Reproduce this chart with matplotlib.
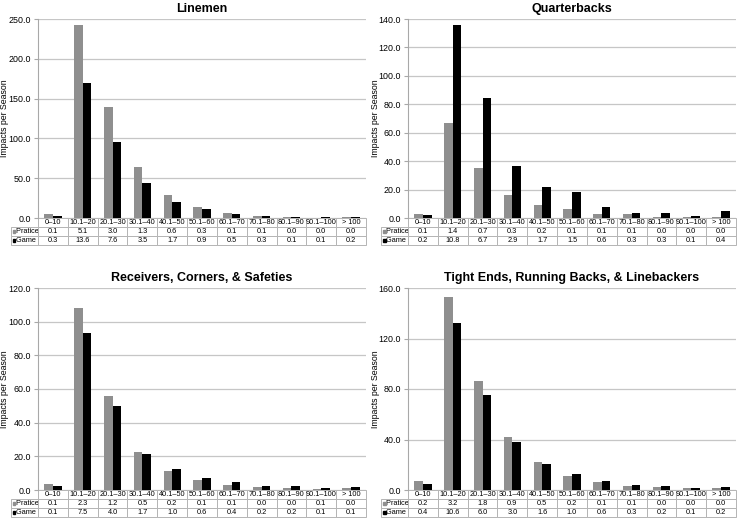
#!/usr/bin/env python3

import matplotlib
matplotlib.use('Agg')
import matplotlib.pyplot as plt
import matplotlib.patches as mpatches
from matplotlib.table import Table
import numpy as np

plt.rcParams['font.family'] = ['Liberation Sans', 'DejaVu Sans']

categories = ['0\u201310', '10.1\u201320', '20.1\u201330', '30.1\u201340', '40.1\u201350',
              '50.1\u201360', '60.1\u201370', '70.1\u201380', '80.1\u201390', '90.1\u2013100', '> 100']
row_names = ['Pratice', 'Game']

# bar heights (impacts per season)
linemen_practice = [5.0, 242.5, 140.0, 63.5, 29.3, 13.4, 6.3, 2.8, 1.3, 0.5, 1.0]
linemen_game = [3.0, 170.0, 95.3, 44.0, 20.5, 11.3, 5.4, 2.8, 1.3, 0.7, 1.5]
qb_practice = [3.0, 66.7, 35.1, 16.4, 8.9, 6.1, 2.6, 2.6, 0.9, 1.0, 0.9]
qb_game = [2.1, 135.6, 84.3, 36.3, 21.8, 18.5, 7.7, 3.7, 3.5, 1.6, 4.9]
rcs_practice = [3.4, 108.3, 55.7, 22.3, 11.3, 5.9, 3.2, 2.0, 1.0, 0.6, 1.0]
rcs_game = [2.2, 93.5, 49.8, 21.1, 12.4, 7.3, 4.5, 2.6, 2.4, 1.2, 2.0]
terl_practice = [7.4, 152.6, 86.5, 42.2, 22.1, 11.3, 6.6, 3.2, 2.1, 1.3, 1.6]
terl_game = [5.0, 132.3, 74.9, 38.0, 20.6, 12.7, 7.4, 4.2, 3.2, 1.6, 2.4]

# values printed in the tables under each chart
linemen_practice_tab = [0.1, 5.1, 3.0, 1.3, 0.6, 0.3, 0.1, 0.1, 0.0, 0.0, 0.0]
linemen_game_tab = [0.3, 13.6, 7.6, 3.5, 1.7, 0.9, 0.5, 0.3, 0.1, 0.1, 0.2]
qb_practice_tab = [0.1, 1.4, 0.7, 0.3, 0.2, 0.1, 0.1, 0.1, 0.0, 0.0, 0.0]
qb_game_tab = [0.2, 10.8, 6.7, 2.9, 1.7, 1.5, 0.6, 0.3, 0.3, 0.1, 0.4]
rcs_practice_tab = [0.1, 2.3, 1.2, 0.5, 0.2, 0.1, 0.1, 0.0, 0.0, 0.1, 0.0]
rcs_game_tab = [0.1, 7.5, 4.0, 1.7, 1.0, 0.6, 0.4, 0.2, 0.2, 0.1, 0.1]
terl_practice_tab = [0.2, 3.2, 1.8, 0.9, 0.5, 0.2, 0.1, 0.1, 0.0, 0.0, 0.0]
terl_game_tab = [0.4, 10.6, 6.0, 3.0, 1.6, 1.0, 0.6, 0.3, 0.2, 0.1, 0.2]

PRAC_COLOR = '#8f8f8f'
GAME_COLOR = '#000000'
GRID_COLOR = '#c6c6c6'
EDGE_COLOR = '#b4b4b4'

W, H = 738, 520
fig = plt.figure(figsize=(W / 100, H / 100), dpi=100)


def panel(rect_px, title, prac, game, prac_tab, game_tab, ymax, ystep):
    x0, top, x1, bottom = rect_px
    ax = fig.add_axes([x0 / W, 1 - bottom / H, (x1 - x0) / W, (bottom - top) / H])
    ax_h = bottom - top
    ax_w = x1 - x0
    n = len(categories)
    x = np.arange(n)
    bw = 0.29
    ax.bar(x - bw / 2, prac, bw, color=PRAC_COLOR, zorder=3)
    ax.bar(x + bw / 2, game, bw, color=GAME_COLOR, zorder=3)
    ax.set_xlim(-0.5, n - 0.5)
    ax.set_ylim(0, ymax)
    ax.set_yticks(np.arange(0, ymax + 0.01, ystep))
    ax.yaxis.set_major_formatter(plt.FormatStrFormatter('%.1f'))
    ax.tick_params(axis='y', length=3, width=0.8, color='#a8a8a8', labelsize=6.4, pad=2)
    ax.set_xticks([])
    ax.grid(axis='y', color=GRID_COLOR, linewidth=0.9, zorder=0)
    for s in ['top', 'right', 'bottom']:
        ax.spines[s].set_visible(False)
    ax.spines['left'].set_color('#a8a8a8')
    ax.set_title(title, fontsize=9, fontweight='bold', pad=5)
    ax.set_ylabel('Impacts per Season', fontsize=6.3, va='center')
    ax.yaxis.set_label_coords(-33 / ax_w, 0.5)

    # table under the chart: header row of categories + two value rows
    rh = 9 / ax_h
    rw = 27 / ax_w
    # bbox covers the data columns only; the row label column sits left of it
    tab = Table(ax, bbox=[0, -3 * rh, 1, 3 * rh])
    for j, cat in enumerate(categories):
        tab.add_cell(0, j, width=1 / n, height=rh, text=cat, loc='center')
    for i, (name, vals) in enumerate([(row_names[0], prac_tab), (row_names[1], game_tab)]):
        c = tab.add_cell(i + 1, -1, width=rw, height=rh, text=' ' + name, loc='left')
        c.PAD = 0.1
        for j, v in enumerate(vals):
            tab.add_cell(i + 1, j, width=1 / n, height=rh, text='%.1f' % v, loc='center')
    tab.auto_set_font_size(False)
    tab.set_fontsize(5.3)
    for cell in tab.get_celld().values():
        cell.set_edgecolor(EDGE_COLOR)
        cell.set_linewidth(0.7)
    ax.add_table(tab)

    # small legend keys in the row label cells
    sq_w = 3 / ax_w
    sq_h = 3 / ax_h
    for i, col in enumerate([PRAC_COLOR, GAME_COLOR]):
        yc = -(i + 1.5) * rh
        ax.add_patch(mpatches.Rectangle((-rw + 1.5 / ax_w, yc - sq_h / 2), sq_w, sq_h,
                                        transform=ax.transAxes, color=col,
                                        clip_on=False, zorder=5))
    return ax


panel((38, 19, 366, 218), 'Linemen', linemen_practice, linemen_game,
      linemen_practice_tab, linemen_game_tab, 250, 50)
panel((408, 19, 736, 218), 'Quarterbacks', qb_practice, qb_game,
      qb_practice_tab, qb_game_tab, 140, 20)
panel((38, 288, 366, 490), 'Receivers, Corners, & Safeties', rcs_practice, rcs_game,
      rcs_practice_tab, rcs_game_tab, 120, 20)
panel((408, 288, 736, 490), 'Tight Ends, Running Backs, & Linebackers', terl_practice, terl_game,
      terl_practice_tab, terl_game_tab, 160, 40)

plt.savefig('out.png', dpi=100)
